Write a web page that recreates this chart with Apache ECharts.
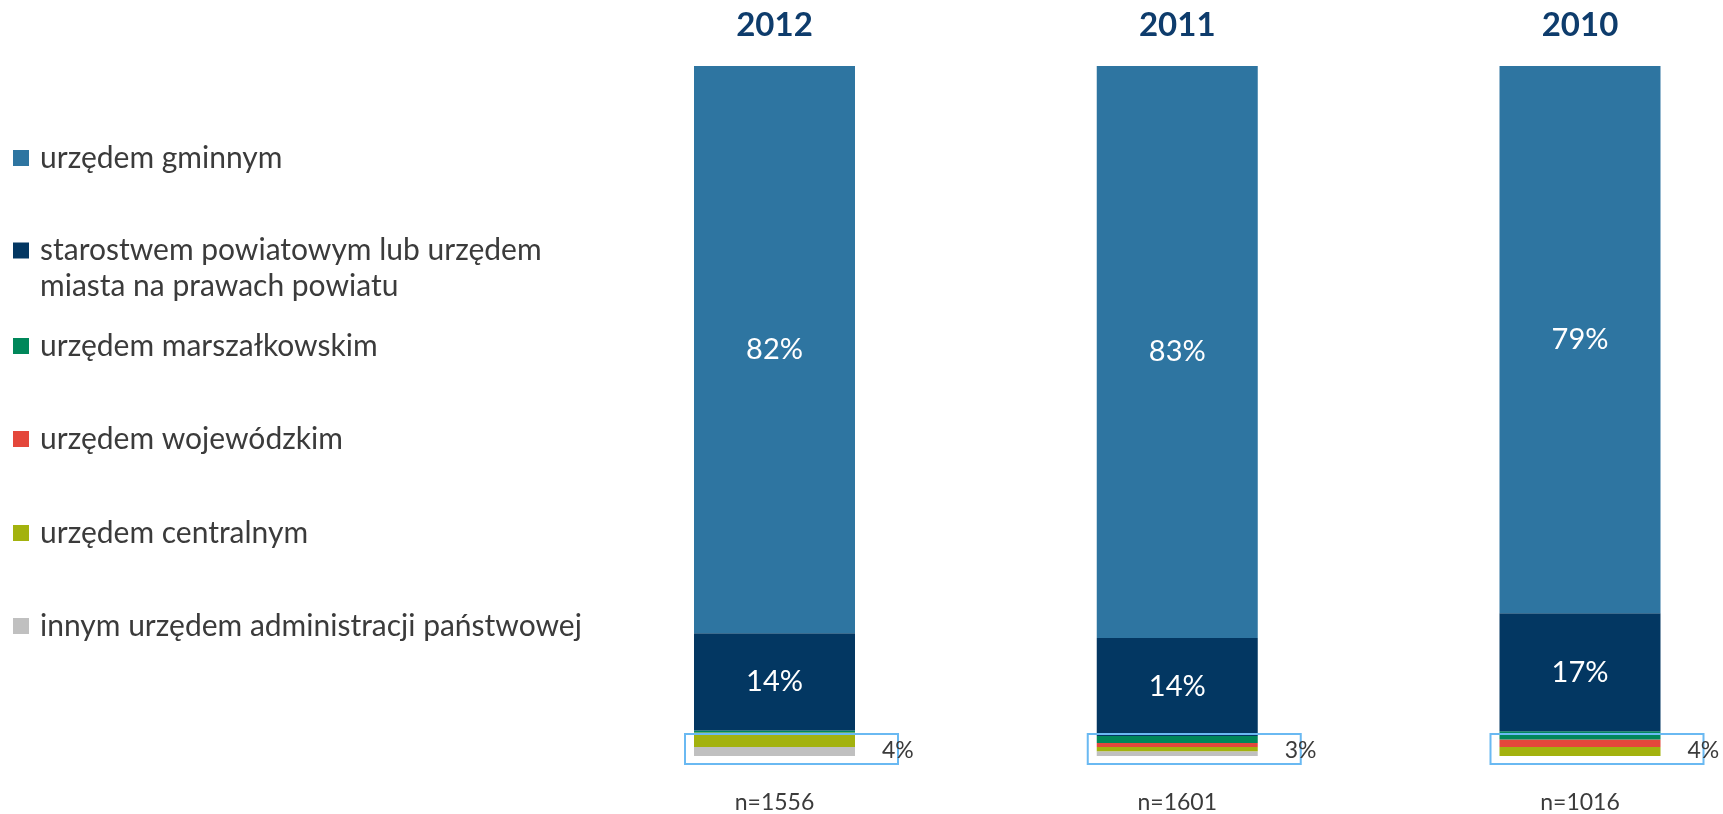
<!DOCTYPE html>
<html>
<head>
<meta charset="utf-8">
<script src="https://cdn.jsdelivr.net/npm/echarts@6/dist/echarts.min.js"></script>
<style>
  html, body { margin: 0; padding: 0; background: #ffffff; }
  #chart { width: 1723px; height: 814px; }
</style>
</head>
<body>
<div id="chart"></div>
<script>
// Survey years (one stacked column each) and sample sizes
const years = ['2012', '2011', '2010'];
const sampleSizes = [1556, 1601, 1016];

// Share of answers (%) per office type, in year order
const gminnym = [82.2, 82.9, 79.3];
const starostwem = [14.1, 14.2, 17.1];
const marszalkowskim = [0.3, 1.0, 1.2];
const wojewodzkim = [0.0, 0.6, 1.1];
const centralnym = [2.1, 0.6, 1.3];
const innym = [1.3, 0.7, 0.0];

// Legend / series names
const names = [
  'urzędem gminnym',
  'starostwem powiatowym lub urzędem\nmiasta na prawach powiatu',
  'urzędem marszałkowskim',
  'urzędem wojewódzkim',
  'urzędem centralnym',
  'innym urzędem administracji państwowej'
];

const colors = {
  gminnym: '#2e75a1',
  starostwem: '#033762',
  marszalkowskim: '#00875a',
  wojewodzkim: '#e4473b',
  centralnym: '#a3b20e',
  innym: '#c0c0c0'
};

const FONT = 'Lato, "Open Sans", sans-serif';
const BAR_W = 161;

// Sum of the four small categories, shown next to each column
const smallTotals = years.map((_, i) =>
  marszalkowskim[i] + wojewodzkim[i] + centralnym[i] + innym[i]);

const chart = echarts.init(document.getElementById('chart'));

function barSeries(name, data, color, showLabel) {
  return {
    name: name,
    type: 'bar',
    stack: 'total',
    barWidth: BAR_W,
    clip: false,
    data: data,
    itemStyle: { color: color },
    label: {
      show: showLabel,
      position: 'inside',
      color: '#ffffff',
      fontFamily: FONT,
      fontSize: 29,
      formatter: p => Math.round(p.value) + '%'
    },
    emphasis: { disabled: true }
  };
}

// Legend entries on the left, one legend block per item for even spacing.
// Multi-line names get a leading blank line so the first line sits beside the swatch.
const legendCenters = [158, 252, 346, 439, 533, 626];
const legends = names.map((name, i) => {
  const multi = name.indexOf('\n') >= 0;
  return {
    data: [name],
    orient: 'vertical',
    left: 13,
    top: legendCenters[i] - (multi ? 55.5 : 18),
    padding: 0,
    icon: 'rect',
    itemWidth: 16,
    itemHeight: 16,
    selectedMode: false,
    formatter: n => (multi ? '\n' : '') +
      n.split('\n').map(l => '{t|' + l + '}').join('\n'),
    textStyle: {
      fontFamily: FONT,
      fontSize: 30,
      color: '#3b3b3b',
      lineHeight: 36,
      rich: {
        t: {
          fontFamily: FONT,
          fontSize: 30,
          color: '#3b3b3b',
          lineHeight: 36,
          padding: [0, 0, 0, 6]
        }
      }
    }
  };
});

const option = {
  backgroundColor: '#ffffff',
  animation: false,
  legend: legends,
  grid: { left: 774.5, top: 66, width: 805.5, bottom: 58 },
  xAxis: [
    {
      type: 'category',
      position: 'top',
      boundaryGap: false,
      data: years,
      axisLine: { show: false },
      axisTick: { show: false },
      axisLabel: {
        margin: 24,
        fontFamily: FONT,
        fontWeight: 'bold',
        fontSize: 33,
        color: '#0e3c6c'
      }
    },
    {
      type: 'category',
      position: 'bottom',
      boundaryGap: false,
      data: sampleSizes.map(n => 'n=' + n),
      axisLine: { show: false },
      axisTick: { show: false },
      axisLabel: {
        margin: 35,
        fontFamily: FONT,
        fontSize: 23,
        color: '#3b3b3b'
      }
    }
  ],
  yAxis: {
    type: 'value',
    min: 0,
    max: 100,
    show: false
  },
  series: [
    barSeries(names[5], innym, colors.innym, false),
    barSeries(names[4], centralnym, colors.centralnym, false),
    barSeries(names[3], wojewodzkim, colors.wojewodzkim, false),
    barSeries(names[2], marszalkowskim, colors.marszalkowskim, false),
    barSeries(names[1], starostwem, colors.starostwem, true),
    barSeries(names[0], gminnym, colors.gminnym, true),
    {
      // Outline around the small categories plus their combined share
      type: 'custom',
      clip: false,
      z: 5,
      data: smallTotals.map((v, i) => [i, v]),
      renderItem: function (params, api) {
        const base = api.coord([api.value(0), 0]);
        const left = base[0] - BAR_W / 2;
        const right = base[0] + BAR_W / 2;
        return {
          type: 'group',
          children: [
            {
              type: 'rect',
              shape: { x: left - 9, y: base[1] - 22, width: BAR_W + 52, height: 30 },
              style: { fill: 'none', stroke: '#6ab9f2', lineWidth: 2 }
            },
            {
              type: 'text',
              style: {
                x: right + 27,
                y: base[1] - 5,
                text: Math.round(api.value(1)) + '%',
                fill: '#3b3b3b',
                font: '23px ' + FONT,
                verticalAlign: 'middle',
                align: 'left'
              }
            }
          ]
        };
      }
    }
  ]
};

chart.setOption(option);
</script>
</body>
</html>
